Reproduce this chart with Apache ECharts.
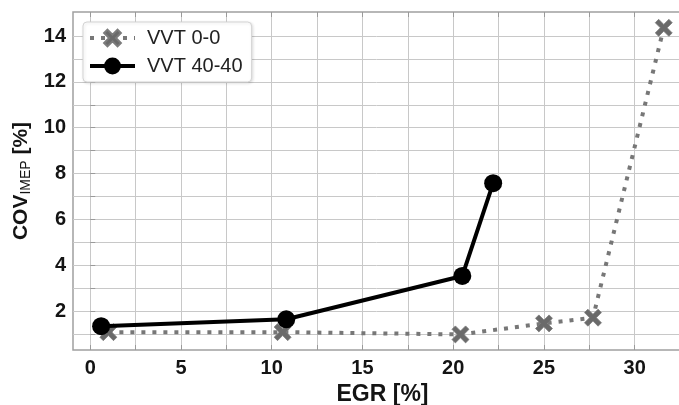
<!DOCTYPE html>
<html>
<head>
<meta charset="utf-8">
<script src="https://cdn.jsdelivr.net/npm/echarts@6/dist/echarts.min.js"></script>
<style>
  html, body { margin: 0; padding: 0; background: #fff; }
  #chart { width: 679px; height: 405px; }
</style>
</head>
<body>
<div id="chart"></div>
<script>
// Combustion stability (COV of IMEP) versus EGR rate for two cam phasings
const seriesNames = ['VVT 0-0', 'VVT 40-40'];
const egrVvt00 = [1.0, 10.6, 20.4, 25.0, 27.7, 31.6];
const covVvt00 = [1.08, 1.08, 0.98, 1.46, 1.71, 14.36];
const egrVvt4040 = [0.6, 10.8, 20.5, 22.2];
const covVvt4040 = [1.34, 1.64, 3.53, 7.58];

const xTickLabels = [0, 5, 10, 15, 20, 25, 30];
const xGridValues = [0, 2.5, 5, 7.5, 10, 12.5, 15, 17.5, 20, 22.5, 25, 27.5, 30];
const yTickLabels = [2, 4, 6, 8, 10, 12, 14];
const yGridValues = [1, 2, 3, 4, 5, 6, 7, 8, 9, 10, 11, 12, 13, 14];

const pairs = (xs, ys) => xs.map((x, i) => [x, ys[i]]);

// filled "X" marker
const crossPath = 'path://M2,0 L5,3 L8,0 L10,2 L7,5 L10,8 L8,10 L5,7 L2,10 L0,8 L3,5 L0,2 Z';

const font = 'Liberation Sans, Arial, sans-serif';
const ink = '#141414';
const gridColor = '#c8c8c8';
const tickStyle = { show: true, inside: true, length: 5, lineStyle: { color: '#9a9a9a', width: 1 } };
const chart = echarts.init(document.getElementById('chart'), null, { renderer: 'canvas' });

const dottedLine = { color: '#777', width: 4, type: [4, 7], cap: 'butt' };
const solidLine = { color: '#000', width: 4 };

chart.setOption({
  animation: false,
  backgroundColor: '#fff',
  grid: {
    left: 73, top: 12, right: -2, bottom: 55,
    show: true, borderColor: '#a0a0a0', borderWidth: 1.5,
    containLabel: false,
    outerBoundsMode: 'none'
  },
  legend: {
    left: 83, top: 22,
    orient: 'vertical',
    itemWidth: 45, itemHeight: 21, itemGap: 8,
    padding: [6, 9, 6, 5],
    backgroundColor: '#fff',
    borderColor: '#d4d4d4', borderWidth: 1, borderRadius: 4,
    shadowColor: 'rgba(0,0,0,0.12)', shadowBlur: 3, shadowOffsetX: 1, shadowOffsetY: 1,
    textStyle: { fontFamily: font, fontSize: 20, color: '#222', padding: [0, 0, 0, 7] },
    data: [
      { name: seriesNames[0], lineStyle: dottedLine },
      { name: seriesNames[1], lineStyle: solidLine }
    ]
  },
  xAxis: [
    {
      type: 'value',
      min: -0.95, max: 32.55,
      name: 'EGR [%]',
      nameLocation: 'middle', nameGap: 33,
      nameTextStyle: { fontFamily: font, fontSize: 23, fontWeight: 'bold', color: ink, padding: [0, 0, 0, 11] },
      axisLine: { show: false },
      axisTick: Object.assign({ customValues: xGridValues }, tickStyle),
      axisLabel: {
        customValues: xTickLabels, margin: 8,
        fontFamily: font, fontSize: 20, fontWeight: 'bold', color: ink
      },
      splitLine: { show: true, lineStyle: { color: gridColor, width: 1 } }
    },
    {
      // mirrored tick marks along the top frame
      type: 'value',
      position: 'top',
      min: -0.95, max: 32.55,
      axisLine: { show: false },
      axisTick: Object.assign({ customValues: xGridValues }, tickStyle),
      axisLabel: { show: false },
      splitLine: { show: false }
    }
  ],
  yAxis: {
    type: 'value',
    min: 0.3, max: 15.05,
    name: '{a|COV}{b|IMEP}{a| [%]}',
    nameLocation: 'middle', nameGap: 40, nameRotate: 90,
    nameTextStyle: {
      rich: {
        a: { fontFamily: font, fontSize: 21, fontWeight: 'bold', color: ink, lineHeight: 24 },
        b: { fontFamily: font, fontSize: 14, color: ink, verticalAlign: 'bottom', lineHeight: 24, padding: [5, 0, 0, 0] }
      }
    },
    axisLine: { show: false },
    axisTick: Object.assign({ customValues: yGridValues }, tickStyle),
    axisLabel: {
      customValues: yTickLabels, margin: 7,
      fontFamily: font, fontSize: 20, fontWeight: 'bold', color: ink
    },
    splitLine: { show: true, lineStyle: { color: gridColor, width: 1 } }
  },
  series: [
    {
      name: seriesNames[0],
      type: 'line',
      data: pairs(egrVvt00, covVvt00),
      symbol: crossPath, symbolSize: 17,
      itemStyle: { color: '#6a6a6a', borderColor: '#7c7c7c', borderWidth: 0.8 },
      lineStyle: dottedLine,
      z: 2
    },
    {
      name: seriesNames[1],
      type: 'line',
      data: pairs(egrVvt4040, covVvt4040),
      symbol: 'circle', symbolSize: 18,
      itemStyle: { color: '#000' },
      lineStyle: solidLine,
      z: 3
    }
  ]
});
</script>
</body>
</html>
